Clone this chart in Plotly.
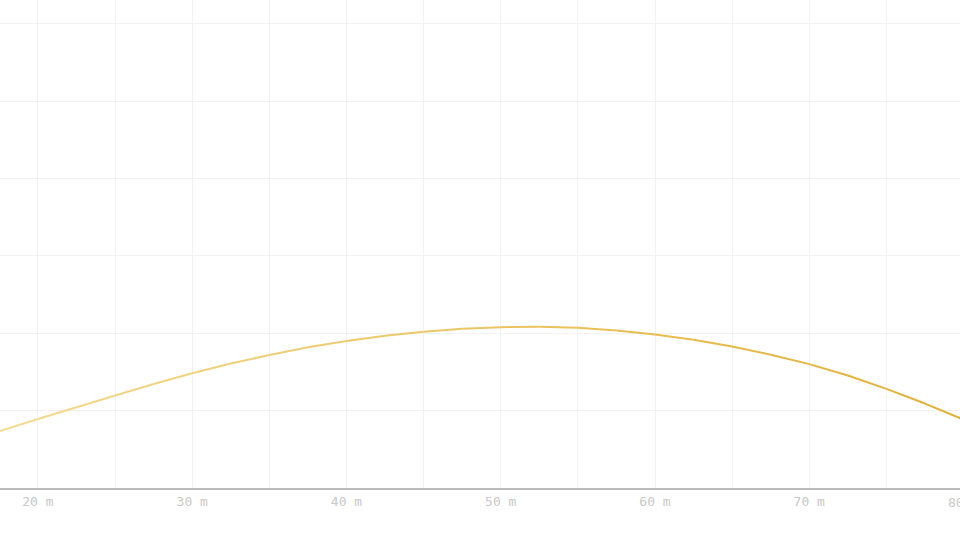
import plotly.graph_objects as go

# Distance (m) and height (m)
distance_m = [15, 17.5, 20, 22.5, 25, 27.5, 30, 32.5, 35, 37.5, 40, 42.5, 45, 47.5,
              50, 52.5, 55, 57.5, 60, 62.5, 65, 67.5, 70, 72.5, 75, 77.5, 80, 82.5]
height_m = [2.87, 3.67, 4.46, 5.22, 5.98, 6.72, 7.42, 8.05, 8.60, 9.10, 9.51, 9.85, 10.10, 10.29,
            10.40, 10.43, 10.36, 10.19, 9.92, 9.58, 9.15, 8.62, 8.01, 7.27, 6.41, 5.46, 4.42, 3.30]
tick_vals = [20, 30, 40, 50, 60, 70, 80]
tick_text = ["20 m", "30 m", "40 m", "50 m", "60 m", "70 m", "80 m"]

c_start = (244, 220, 148)
c_end = (226, 174, 50)
x_range = [17.54, 79.77]

fig = go.Figure()
n = len(distance_m) - 1
for i in range(n):
    t = i / (n - 1)
    col = tuple(round(a + (b - a) * t) for a, b in zip(c_start, c_end))
    fig.add_trace(go.Scatter(
        x=distance_m[i:i + 2], y=height_m[i:i + 2], mode="lines",
        line=dict(color="rgb(%d,%d,%d)" % col, width=2),
        hoverinfo="skip", showlegend=False))

tick_font = dict(family="DejaVu Sans Mono", size=13, color="#c8c8c8")

# tick labels that fall just past the visible range edge (partly cut off in the reference)
for v, txt in zip(tick_vals, tick_text):
    if v > x_range[1]:
        frac = (v - x_range[0]) / (x_range[1] - x_range[0])
        fig.add_annotation(x=frac, xref="paper", xanchor="center", y=0, yref="paper",
                           yanchor="top", yshift=-5, text=txt, showarrow=False,
                           font=tick_font)

fig.update_layout(
    width=960, height=540,
    margin=dict(l=0, r=0, t=0, b=52),
    paper_bgcolor="white", plot_bgcolor="white",
    showlegend=False,
    font=tick_font,
)
fig.update_xaxes(
    range=x_range, tickvals=tick_vals, ticktext=tick_text,
    showgrid=True, gridcolor="#f2f2f2", gridwidth=1,
    minor=dict(dtick=5, tick0=0, showgrid=True, gridcolor="#f2f2f2", gridwidth=1),
    showline=True, linecolor="#bcbcbc", linewidth=2,
    ticks="", zeroline=False,
    tickfont=tick_font,
)
fig.update_yaxes(
    range=[0, 31.55], dtick=5, tick0=0,
    showgrid=True, gridcolor="#f2f2f2", gridwidth=1,
    showticklabels=False, zeroline=False, showline=False, ticks="",
)

fig.write_html(
    "out.html",
    config={"displayModeBar": False},
    post_script="document.body.style.margin='0';document.body.style.overflow='hidden';",
)
